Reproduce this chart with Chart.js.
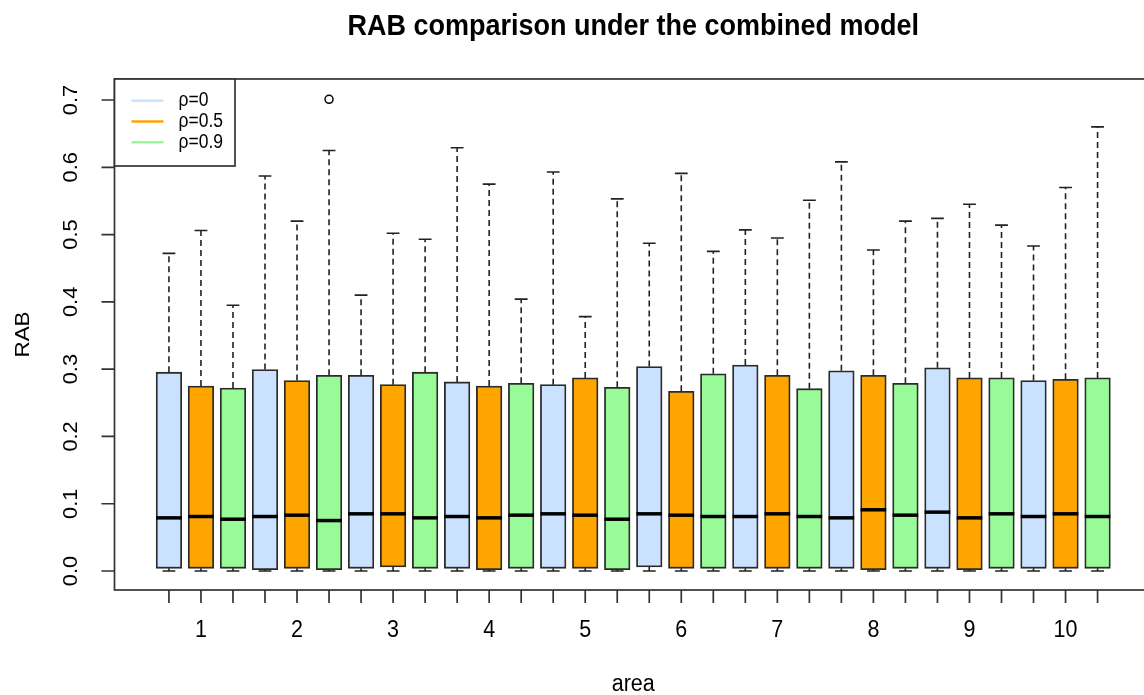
<!DOCTYPE html>
<html>
<head>
<meta charset="utf-8">
<script src="https://cdn.jsdelivr.net/npm/chart.js@4/dist/chart.umd.min.js"></script>
<style>
  html, body { margin: 0; padding: 0; background: #fff; overflow: hidden; }
  #wrap { width: 1160px; height: 695px; }
</style>
</head>
<body>
<div id="wrap"><canvas id="rabChart" width="1160" height="695"></canvas></div>
<script>
// areas and correlation levels
const areas = ["1", "2", "3", "4", "5", "6", "7", "8", "9", "10"];
const rhoLabels = ["ρ=0", "ρ=0.5", "ρ=0.9"];
const yTicks = [0, 0.1, 0.2, 0.3, 0.4, 0.5, 0.6, 0.7];

// box statistics, one entry per box: area 1 (ρ=0, 0.5, 0.9), area 2 (...), ...
const whiskerHigh = [0.472, 0.506, 0.395, 0.587, 0.520, 0.625, 0.410, 0.502, 0.493, 0.629,
                     0.575, 0.404, 0.593, 0.378, 0.553, 0.487, 0.591, 0.475, 0.507, 0.495,
                     0.551, 0.608, 0.477, 0.520, 0.524, 0.545, 0.514, 0.483, 0.570, 0.660];
const upperQuartile = [0.2955, 0.275, 0.272, 0.2995, 0.283, 0.291, 0.291, 0.277, 0.2955, 0.281,
                       0.275, 0.279, 0.277, 0.287, 0.273, 0.304, 0.267, 0.293, 0.306, 0.291,
                       0.271, 0.2975, 0.291, 0.279, 0.302, 0.287, 0.287, 0.283, 0.285, 0.287];
const medians = [0.079, 0.081, 0.077, 0.081, 0.083, 0.075, 0.085, 0.085, 0.079, 0.081,
                 0.079, 0.083, 0.085, 0.083, 0.077, 0.085, 0.083, 0.081, 0.081, 0.085,
                 0.081, 0.079, 0.091, 0.083, 0.0875, 0.079, 0.085, 0.081, 0.085, 0.081];
const lowerQuartile = [0.004, 0.004, 0.004, 0.002, 0.004, 0.002, 0.004, 0.006, 0.004, 0.004,
                       0.002, 0.004, 0.004, 0.004, 0.002, 0.006, 0.004, 0.004, 0.004, 0.004,
                       0.004, 0.004, 0.002, 0.004, 0.004, 0.002, 0.004, 0.004, 0.004, 0.004];
const whiskerLow = [0, 0, 0, 0, 0, 0, 0, 0, 0, 0,
                    0, 0, 0, 0, 0, 0, 0, 0, 0, 0,
                    0, 0, 0, 0, 0, 0, 0, 0, 0, 0];
const outlierBox = [6];
const outlierValue = [0.701];

const rhoColors = ["#CAE1FF", "#FFA500", "#98FB98"];
const FONT = "'Liberation Sans', Arial, sans-serif";
const TEXT_SY = 1.12;   // text is drawn a little taller than wide
const BOX_HALF = 0.4;   // half box width, in x units
const CAP_HALF = 0.2;

const datasets = rhoLabels.map((label, g) => ({
  label,
  data: areas.map((a, i) => {
    const k = i * 3 + g;
    return { x: k + 1, y: [lowerQuartile[k], upperQuartile[k]] };
  }),
  backgroundColor: rhoColors[g],
  borderColor: "#2b2b2b",
  borderWidth: 1.8,
  borderSkipped: false,
  grouped: false,
  barThickness: 25.6
}));

function drawText(ctx, str, x, y, size, opts = {}) {
  ctx.save();
  ctx.translate(x, y);
  ctx.scale(1, TEXT_SY);
  if (opts.rotate) ctx.rotate(opts.rotate);
  ctx.font = (opts.bold ? "bold " : "") + size + "px " + FONT;
  ctx.fillStyle = "#000";
  ctx.textAlign = opts.align || "center";
  ctx.textBaseline = "middle";
  ctx.fillText(str, 0, 0);
  ctx.restore();
}

const boxplotParts = {
  id: "boxplotParts",
  afterDatasetsDraw(chart) {
    const { ctx, chartArea: ca, scales: { x, y } } = chart;
    ctx.save();

    // whiskers and staples
    for (let k = 0; k < whiskerHigh.length; k++) {
      const cx = x.getPixelForValue(k + 1);
      const capL = x.getPixelForValue(k + 1 - CAP_HALF);
      const capR = x.getPixelForValue(k + 1 + CAP_HALF);
      ctx.strokeStyle = "#222";
      ctx.lineWidth = 1.6;
      ctx.setLineDash([6, 4]);
      ctx.beginPath();
      ctx.moveTo(cx, y.getPixelForValue(upperQuartile[k]));
      ctx.lineTo(cx, y.getPixelForValue(whiskerHigh[k]));
      ctx.moveTo(cx, y.getPixelForValue(lowerQuartile[k]));
      ctx.lineTo(cx, y.getPixelForValue(whiskerLow[k]));
      ctx.stroke();
      ctx.setLineDash([]);
      ctx.beginPath();
      ctx.moveTo(capL, y.getPixelForValue(whiskerHigh[k]));
      ctx.lineTo(capR, y.getPixelForValue(whiskerHigh[k]));
      ctx.moveTo(capL, y.getPixelForValue(whiskerLow[k]));
      ctx.lineTo(capR, y.getPixelForValue(whiskerLow[k]));
      ctx.stroke();

      // median
      ctx.strokeStyle = "#000";
      ctx.lineWidth = 3.5;
      ctx.beginPath();
      ctx.moveTo(x.getPixelForValue(k + 1 - BOX_HALF), y.getPixelForValue(medians[k]));
      ctx.lineTo(x.getPixelForValue(k + 1 + BOX_HALF), y.getPixelForValue(medians[k]));
      ctx.stroke();
    }

    // outliers
    ctx.strokeStyle = "#000";
    ctx.lineWidth = 1.5;
    outlierBox.forEach((b, i) => {
      ctx.beginPath();
      ctx.arc(x.getPixelForValue(b), y.getPixelForValue(outlierValue[i]), 4, 0, Math.PI * 2);
      ctx.stroke();
    });

    // frame
    ctx.strokeStyle = "#333";
    ctx.lineWidth = 1.7;
    ctx.strokeRect(ca.left, ca.top, ca.right - ca.left, ca.bottom - ca.top);

    // x axis ticks
    ctx.beginPath();
    for (let k = 1; k <= whiskerHigh.length; k++) {
      const px = x.getPixelForValue(k);
      ctx.moveTo(px, ca.bottom);
      ctx.lineTo(px, ca.bottom + 13);
    }
    // y axis ticks
    yTicks.forEach(v => {
      const py = y.getPixelForValue(v);
      ctx.moveTo(ca.left, py);
      ctx.lineTo(ca.left - 13, py);
    });
    ctx.stroke();

    // area labels sit under the middle box of each group
    areas.forEach((a, i) => {
      drawText(ctx, a, x.getPixelForValue(i * 3 + 2), 630.5, 21.5);
    });
    yTicks.forEach(v => {
      drawText(ctx, v.toFixed(1), 72, y.getPixelForValue(v), 19.5, { rotate: -Math.PI / 2 });
    });

    // axis titles and main title
    const midX = (ca.left + ca.right) / 2;
    drawText(ctx, "area", midX, 684, 21.5);
    drawText(ctx, "RAB", 23, (ca.top + ca.bottom) / 2, 20, { rotate: -Math.PI / 2 });
    drawText(ctx, "RAB comparison under the combined model", midX, 27, 27, { bold: true });

    // legend
    const lgL = ca.left, lgT = ca.top, lgW = 120.5, lgH = 87;
    ctx.fillStyle = "#fff";
    ctx.fillRect(lgL, lgT, lgW, lgH);
    ctx.strokeStyle = "#333";
    ctx.lineWidth = 1.7;
    ctx.strokeRect(lgL, lgT, lgW, lgH);
    chart.data.datasets.forEach((ds, i) => {
      const ly = lgT + 21.7 + i * 20.8;
      ctx.strokeStyle = ds.backgroundColor;
      ctx.lineWidth = 2.5;
      ctx.beginPath();
      ctx.moveTo(lgL + 17, ly);
      ctx.lineTo(lgL + 49, ly);
      ctx.stroke();
      drawText(ctx, ds.label, lgL + 64, ly, 17.5, { align: "left" });
    });

    ctx.restore();
  }
};

new Chart(document.getElementById("rabChart"), {
  type: "bar",
  data: { datasets },
  options: {
    responsive: false,
    animation: false,
    layout: { padding: { left: 114.5, right: 8, top: 79, bottom: 105 } },
    plugins: { legend: { display: false }, tooltip: { enabled: false }, title: { display: false } },
    scales: {
      x: { type: "linear", min: -0.7, max: 31.7, offset: false, display: false },
      y: { min: -0.0282, max: 0.7312, display: false }
    }
  },
  plugins: [boxplotParts]
});
</script>
</body>
</html>
